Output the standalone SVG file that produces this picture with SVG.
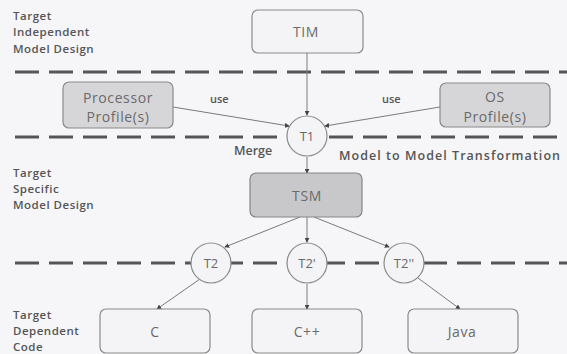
<svg xmlns="http://www.w3.org/2000/svg" width="567" height="354" viewBox="0 0 567 354">
<defs>
<style>
.bg{fill:#f6f6f9}
.box{fill:#f4f4f7;stroke:#8a8a8a;stroke-width:1.2}
.gbox{fill:#d6d6d8;stroke:#8a8a8a;stroke-width:1.2}
.dbox{fill:#c8c8ca;stroke:#858585;stroke-width:1.2}
.circ{fill:#f4f4f7;stroke:#8a8a8a;stroke-width:1.2}
.lbl{font-family:"Open Sans","Noto Sans",sans-serif;font-size:14px;fill:#6a6a6a;text-anchor:middle;letter-spacing:0.6px}
.clbl{font-family:"Open Sans","Noto Sans",sans-serif;font-size:13px;fill:#6a6a6a;text-anchor:middle}
.side{font-family:"Open Sans","Noto Sans",sans-serif;font-size:11.5px;fill:#555;font-weight:600;letter-spacing:0.5px}
.note{font-family:"Open Sans","Noto Sans",sans-serif;font-size:12.5px;fill:#555;font-weight:600}
.dash{stroke:#555;stroke-width:3;stroke-dasharray:24 10;fill:none}
.con{stroke:#7a7a7a;stroke-width:1;fill:none;marker-end:url(#ah)}
</style>
<marker id="ah" viewBox="0 0 6 6" refX="5" refY="3" markerWidth="5" markerHeight="5" orient="auto">
<path d="M0,0 L6,3 L0,6 z" fill="#444"/>
</marker>
</defs>
<rect class="bg" x="0" y="0" width="567" height="354"/>
<g id="separators">
<line class="dash" x1="15" y1="72" x2="567" y2="72"/>
<line class="dash" x1="15" y1="137" x2="286" y2="137"/>
<line class="dash" x1="329" y1="137" x2="567" y2="137"/>
<line class="dash" x1="15" y1="263" x2="567" y2="263"/>
</g>
<g id="side-labels">
<text class="side" x="13" y="20">Target</text>
<text class="side" x="13" y="36">Independent</text>
<text class="side" x="13" y="53">Model Design</text>
<text class="side" x="13" y="177">Target</text>
<text class="side" x="13" y="193">Specific</text>
<text class="side" x="13" y="209">Model Design</text>
<text class="side" x="13" y="319">Target</text>
<text class="side" x="13" y="335">Dependent</text>
<text class="side" x="13" y="351">Code</text>
</g>
<g id="connectors">
<line class="con" x1="307" y1="53" x2="307" y2="115"/>
<line class="con" x1="173" y1="107" x2="289" y2="126"/>
<line class="con" x1="440" y1="107" x2="325" y2="126"/>
<line class="con" x1="307" y1="157" x2="307" y2="173"/>
<line class="con" x1="300" y1="217" x2="225" y2="247"/>
<line class="con" x1="307" y1="217" x2="307" y2="242"/>
<line class="con" x1="314" y1="217" x2="389" y2="247"/>
<line class="con" x1="200" y1="279" x2="157" y2="309"/>
<line class="con" x1="307" y1="284" x2="307" y2="309"/>
<line class="con" x1="418" y1="278" x2="460" y2="309"/>
<text class="note" x="210" y="103" style="font-size:11px">use</text>
<text class="note" x="382" y="103" style="font-size:11px">use</text>
<text class="note" x="234" y="155">Merge</text>
<text class="note" x="339" y="160" textLength="221">Model to Model Transformation</text>
</g>
<g id="TIM">
<rect class="box" x="252" y="10" width="111" height="43" rx="6"/>
<text class="lbl" x="306" y="37">TIM</text>
</g>
<g id="Processor">
<rect class="gbox" x="63" y="82" width="110" height="46" rx="6"/>
<text class="lbl" x="118" y="103">Processor</text>
<text class="lbl" x="118" y="122">Profile(s)</text>
</g>
<g id="OS">
<rect class="gbox" x="440" y="83" width="110" height="44" rx="6"/>
<text class="lbl" x="495" y="102">OS</text>
<text class="lbl" x="495" y="122">Profile(s)</text>
</g>
<g id="T1">
<circle class="circ" cx="307" cy="136" r="20"/>
<text class="clbl" x="307" y="141">T1</text>
</g>
<g id="TSM">
<rect class="dbox" x="250" y="173" width="112" height="44" rx="6"/>
<text class="lbl" x="307" y="201">TSM</text>
</g>
<g id="T2">
<circle class="circ" cx="211" cy="263" r="20"/>
<text class="clbl" x="211" y="268">T2</text>
</g>
<g id="T2p">
<circle class="circ" cx="307" cy="263" r="20"/>
<text class="clbl" x="307" y="268">T2'</text>
</g>
<g id="T2pp">
<circle class="circ" cx="404" cy="263" r="20"/>
<text class="clbl" x="404" y="268">T2''</text>
</g>
<g id="C">
<rect class="box" x="100" y="309" width="110" height="44" rx="6"/>
<text class="lbl" x="155" y="337">C</text>
</g>
<g id="Cpp">
<rect class="box" x="252" y="309" width="110" height="44" rx="6"/>
<text class="lbl" x="307" y="337">C++</text>
</g>
<g id="Java">
<rect class="box" x="408" y="309" width="110" height="44" rx="6"/>
<text class="lbl" x="462" y="337">Java</text>
</g>
</svg>
